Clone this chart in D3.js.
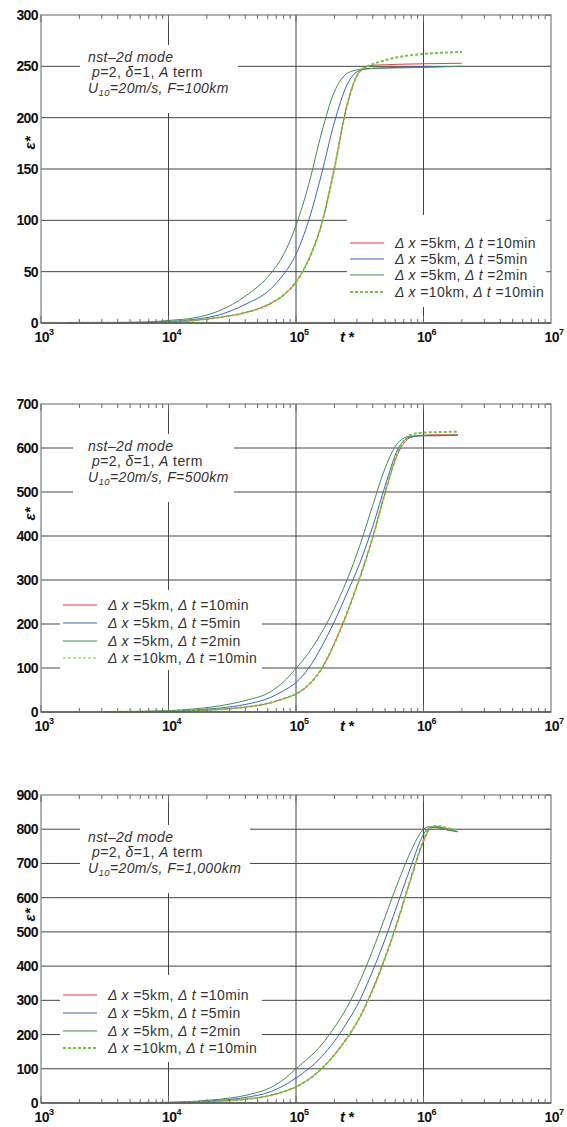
<!DOCTYPE html>
<html>
<head>
<meta charset="utf-8">
<script src="https://cdn.jsdelivr.net/npm/d3@7"></script>
<style>
  body { margin: 0; background: #fff; }
  svg { display: block; font-family: "Liberation Sans", Arial, sans-serif; }
</style>
</head>
<body>
<svg id="chart" width="567" height="1127"></svg>
<script>
// log10(t*) sample points
var expTop = [3.2, 3.5, 3.8, 4.0, 4.2, 4.4, 4.6, 4.8, 4.9, 5.0, 5.1, 5.2, 5.3, 5.4, 5.5, 5.6, 5.7, 5.8, 6.0, 6.3]
var topDt10 = [0.1, 0.2, 0.4, 1, 2.5, 5.5, 10, 19, 27, 40, 62, 96, 150, 212, 245, 251, 251.5, 252, 252.5, 253]
var topDt5 = [0.2, 0.3, 0.6, 1.5, 3.5, 8, 18, 33, 47, 67, 100, 145, 195, 232, 246, 248, 248.5, 249, 249.5, 250]
var topDt2 = [0.2, 0.4, 0.8, 2.5, 5, 12, 26, 48, 66, 95, 135, 185, 225, 243, 247, 248, 248.3, 248.5, 249, 250]
var topDx10 = [0.1, 0.2, 0.4, 1, 2.5, 5.5, 10, 19, 27, 40, 62, 96, 150, 212, 245, 252, 256, 259, 262, 264]

var expMid = [3.5, 3.8, 4.0, 4.2, 4.4, 4.6, 4.8, 4.9, 5.0, 5.1, 5.2, 5.3, 5.4, 5.5, 5.6, 5.7, 5.8, 5.9, 6.0, 6.1, 6.27]
var midDt10 = [0.2, 0.6, 1.5, 3, 6, 11, 21, 30, 41, 62, 98, 155, 225, 305, 395, 500, 588, 624, 629, 630, 630]
var midDt5 = [0.3, 1, 2, 4.5, 9, 17, 33, 48, 67, 100, 148, 205, 270, 338, 420, 515, 598, 625, 628, 628, 629]
var midDt2 = [0.5, 1.5, 3, 7, 14, 26, 46, 68, 99, 135, 180, 235, 300, 378, 468, 555, 612, 627, 628, 628, 629]
var midDx10 = [0.2, 0.6, 1.5, 3, 6, 11, 21, 30, 41, 62, 98, 155, 225, 305, 395, 500, 592, 630, 635, 636, 637]

var expBot = [3.7, 4.0, 4.2, 4.4, 4.6, 4.8, 4.9, 5.0, 5.2, 5.3, 5.4, 5.5, 5.6, 5.7, 5.8, 5.9, 6.0, 6.05, 6.1, 6.2, 6.27]
var botDt10 = [0.2, 1, 2.5, 5.5, 11, 22, 33, 47, 100, 140, 190, 250, 330, 425, 535, 655, 765, 800, 808, 800, 792]
var botDt5 = [0.3, 1.5, 3.5, 8, 16, 33, 50, 73, 135, 180, 235, 300, 385, 480, 585, 690, 785, 805, 806, 797, 793]
var botDt2 = [0.5, 2, 5, 11, 22, 45, 68, 100, 170, 220, 280, 355, 445, 545, 645, 735, 800, 808, 805, 797, 793]
var botDx10 = [0.2, 1, 2.5, 5.5, 11, 22, 33, 47, 100, 140, 190, 250, 330, 425, 535, 655, 768, 805, 810, 802, 795]

var xTickExps = [3, 4, 5, 6, 7]
var seriesNames = [["5km", "10min"], ["5km", "5min"], ["5km", "2min"], ["10km", "10min"]]
var fetchLabels = ["100km", "500km", "1,000km"]
var yMaxes = [300, 700, 900]
var yStepTop = 50, yStep = 100

var svg = d3.select("#chart")
var colors = ["#e5403a", "#3a64c8", "#3f8f50", "#6cc83c"]
var xLeft = 41, xRight = 551, plotH = 308
var panelTops = [15, 404, 795]

var x = d3.scaleLog().domain([1e3, 1e7]).range([xLeft, xRight])

var panels = [
    {exps: expTop, series: [topDt10, topDt5, topDt2, topDx10], step: yStepTop,
     box: [80, 238], yLab: 128, rowY: 228, rowGap: 16.2, lx: 350,
     legend: {x: 347, w: 202, y: 200, h: 92, thickDash: true}},
    {exps: expMid, series: [midDt10, midDt5, midDt2, midDx10], step: yStep,
     box: [73, 234], yLab: 110, rowY: 201, rowGap: 17.8, lx: 63,
     legend: {x: 60, w: 202, y: 186, h: 80, thickDash: false}},
    {exps: expBot, series: [botDt10, botDt5, botDt2, botDx10], step: yStep,
     box: [80, 250], yLab: 120, rowY: 200, rowGap: 17.8, lx: 63,
     legend: {x: 60, w: 202, y: 180, h: 87, thickDash: true}}
]

panels.forEach(function(p, i) {
    var top = panelTops[i], bottom = top + plotH
    var y = d3.scaleLinear().domain([0, yMaxes[i]]).range([bottom, top])
    var g = svg.append("g")
    var yTicks = d3.range(0, yMaxes[i] + 1, p.step)

    // grid
    g.selectAll(".vg").data([1e4, 1e5, 1e6]).enter().append("line")
        .attr("x1", d => x(d)).attr("x2", d => x(d))
        .attr("y1", top).attr("y2", bottom)
        .attr("stroke", "#444").attr("stroke-width", 1)
    g.selectAll(".hg").data(yTicks.slice(1, -1)).enter().append("line")
        .attr("x1", xLeft).attr("x2", xRight)
        .attr("y1", d => y(d)).attr("y2", d => y(d))
        .attr("stroke", "#444").attr("stroke-width", 1)

    // annotation box
    g.append("rect")
        .attr("x", p.box[0]).attr("y", top + 30)
        .attr("width", p.box[1] - p.box[0]).attr("height", 68)
        .attr("fill", "#fff")
    var ann = g.append("g").attr("fill", "#333").attr("font-size", 14)
        .attr("letter-spacing", "0.4")
    ann.append("text").attr("x", 88).attr("y", top + 46.5)
        .attr("font-style", "italic").text("nst\u20132d mode")
    var l2 = ann.append("text").attr("x", 92).attr("y", top + 62)
    l2.append("tspan").attr("font-style", "italic").text("p")
    l2.append("tspan").text("=2, ")
    l2.append("tspan").attr("font-style", "italic").text("\u03b4")
    l2.append("tspan").text("=1,  ")
    l2.append("tspan").attr("font-style", "italic").text("A")
    l2.append("tspan").text(" term")
    var l3 = ann.append("text").attr("x", 88).attr("y", top + 78).attr("font-style", "italic")
    l3.append("tspan").text("U")
    l3.append("tspan").attr("font-size", 9.5).attr("dy", 3).text("10")
    l3.append("tspan").attr("dy", -3).text("=20m/s, F=" + fetchLabels[i])

    // legend box
    var lg = p.legend
    g.append("rect").attr("x", lg.x).attr("y", lg.y + top).attr("width", lg.w).attr("height", lg.h)
        .attr("fill", "#fff")

    // curves
    var line = d3.line()
        .x(d => x(d[0]))
        .y(d => y(d[1]))
        .curve(d3.curveMonotoneX)
    p.series.forEach(function(vals, k) {
        var pts = p.exps.map((e, j) => [Math.pow(10, e), vals[j]])
        g.append("path").datum(pts)
            .attr("d", line)
            .attr("fill", "none")
            .attr("stroke", colors[k])
            .attr("stroke-width", k == 3 ? 2 : 1)
            .attr("stroke-dasharray", k == 3 ? "3,2" : null)
    })

    // legend entries
    seriesNames.forEach(function(s, k) {
        var ry = Math.round(top + p.rowY + k * p.rowGap)
        g.append("line").attr("x1", p.lx).attr("x2", p.lx + 34)
            .attr("y1", ry).attr("y2", ry)
            .attr("stroke", colors[k])
            .attr("stroke-width", k == 3 ? (lg.thickDash ? 2 : 1) : 1.2)
            .attr("stroke-dasharray", k == 3 ? "3,2" : null)
        var t = g.append("text").attr("x", p.lx + 45).attr("y", ry + 5)
            .attr("font-size", 14).attr("letter-spacing", "0.4").attr("fill", "#333")
        t.append("tspan").attr("font-style", "italic").text("\u0394 x")
        t.append("tspan").text(" =" + s[0] + ", ")
        t.append("tspan").attr("font-style", "italic").text("\u0394 t")
        t.append("tspan").text(" =" + s[1])
    })

    // frame
    g.append("rect").attr("x", xLeft).attr("y", top)
        .attr("width", xRight - xLeft).attr("height", plotH)
        .attr("fill", "none").attr("stroke", "#888").attr("stroke-width", 1.3)
    g.append("line").attr("x1", xLeft).attr("x2", xRight)
        .attr("y1", bottom).attr("y2", bottom)
        .attr("stroke", "#555").attr("stroke-width", 1.3)

    // minor/major x ticks top and bottom
    var xt = []
    for (var e = 3; e < 7; e++) {
        for (var m = 1; m < 10; m++) xt.push({v: m * Math.pow(10, e), major: m == 1})
    }
    g.selectAll(".xtb").data(xt).enter().append("line")
        .attr("x1", d => x(d.v)).attr("x2", d => x(d.v))
        .attr("y1", bottom).attr("y2", d => bottom - (d.major ? 7 : 4))
        .attr("stroke", "#666")
    g.selectAll(".xtt").data(xt).enter().append("line")
        .attr("x1", d => x(d.v)).attr("x2", d => x(d.v))
        .attr("y1", top).attr("y2", d => top + (d.major ? 7 : 4))
        .attr("stroke", "#666")
    g.selectAll(".ytr").data(yTicks).enter().append("line")
        .attr("x1", xRight).attr("x2", xRight - 5)
        .attr("y1", d => y(d)).attr("y2", d => y(d))
        .attr("stroke", "#666")

    // tick labels
    g.selectAll(".yl").data(yTicks).enter().append("text")
        .attr("x", 38).attr("y", d => y(d)).attr("dy", "0.36em")
        .attr("text-anchor", "end")
        .attr("font-size", 14).attr("font-weight", "bold")
        .attr("letter-spacing", "-0.6")
        .attr("fill", "#111")
        .text(d => d)
    xTickExps.forEach(function(ex) {
        var t = g.append("text")
            .attr("x", x(Math.pow(10, ex)) + 3).attr("y", bottom + 19)
            .attr("text-anchor", "middle")
            .attr("font-size", 14).attr("font-weight", "bold")
            .attr("letter-spacing", "-0.6")
            .attr("fill", "#111")
        t.append("tspan").text("10")
        t.append("tspan").attr("font-size", 9).attr("dy", -7).text(ex)
    })

    // axis titles
    g.append("text").attr("x", 340).attr("y", bottom + 19)
        .attr("font-size", 15).attr("font-weight", "bold").attr("font-style", "italic")
        .attr("fill", "#111").text("t\u2009*")
    g.append("text")
        .attr("transform", "translate(35," + (top + p.yLab) + ") rotate(-90)")
        .attr("text-anchor", "middle")
        .attr("font-size", 15).attr("font-weight", "bold").attr("font-style", "italic")
        .attr("fill", "#111").text("\u03b5*")
})
</script>
</body>
</html>
